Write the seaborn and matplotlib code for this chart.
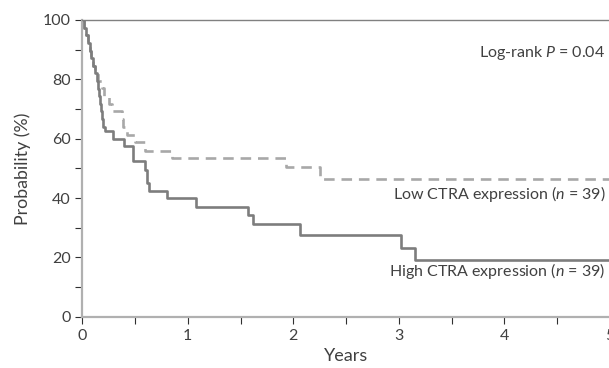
import numpy as np
import pandas as pd
import seaborn as sns
import matplotlib.pyplot as plt
from matplotlib.ticker import MultipleLocator

# Kaplan-Meier curves (years, survival %)
high_years = [0, 0.02, 0.04, 0.05, 0.07, 0.08, 0.10, 0.12, 0.14, 0.15, 0.16, 0.17, 0.18,
              0.19, 0.20, 0.215, 0.29, 0.40, 0.48, 0.59, 0.61, 0.63, 0.80, 1.075, 1.57,
              1.62, 2.06, 3.02, 3.15, 5.0]
high_surv = [100, 97.4, 94.9, 92.3, 89.7, 87.2, 84.6, 82.1, 79.5, 76.9, 74.4, 71.8, 69.2,
             66.7, 64.1, 62.5, 60, 57.5, 52.5, 49.6, 45, 42.5, 40, 37, 34.4,
             31.2, 27.6, 23.3, 19.2, 19.2]

low_years = [0, 0.02, 0.04, 0.05, 0.07, 0.08, 0.10, 0.12, 0.15, 0.19, 0.21, 0.25, 0.28,
             0.38, 0.39, 0.42, 0.50, 0.59, 0.85, 1.93, 2.25, 5.0]
low_surv = [100, 97.4, 94.9, 92.3, 89.7, 87.2, 84.6, 82.1, 79.5, 77, 74.4, 71.8, 69.3,
            66.7, 64.1, 61.4, 58.9, 55.9, 53.4, 50.6, 46.3, 46.3]

x_ticks = [0, 1, 2, 3, 4, 5]
y_ticks = [0, 20, 40, 60, 80, 100]

high_label = "High CTRA expression ($\\it{n}$ = 39)"
low_label = "Low CTRA expression ($\\it{n}$ = 39)"
pval_label = "Log-rank $\\it{P}$ = 0.04"

sns.set_style("ticks")
plt.rcParams['font.family'] = ['Lato', 'DejaVu Sans']
plt.rcParams['mathtext.fontset'] = 'custom'
plt.rcParams['mathtext.it'] = 'Lato:italic'
plt.rcParams['mathtext.rm'] = 'Lato'

text_col = '#404040'

fig = plt.figure(figsize=(6.09, 3.68), dpi=100)
ax = fig.add_axes([0.1351, 0.1394, 0.8662, 0.8063])

high_df = pd.DataFrame({'Years': high_years, 'Probability': high_surv})
low_df = pd.DataFrame({'Years': low_years, 'Probability': low_surv})

sns.lineplot(data=low_df, x='Years', y='Probability', ax=ax, estimator=None,
             drawstyle='steps-post', color='#a8a8a8', linewidth=1.9,
             linestyle=(0, (4, 2.6)))
sns.lineplot(data=high_df, x='Years', y='Probability', ax=ax, estimator=None,
             drawstyle='steps-post', color='#7d7d7d', linewidth=1.9)

ax.set_xlim(0, 5)
ax.set_ylim(0, 100)
ax.set_xticks(x_ticks)
ax.set_yticks(y_ticks)
ax.xaxis.set_minor_locator(MultipleLocator(0.5))
ax.yaxis.set_minor_locator(MultipleLocator(10))
ax.tick_params(axis='both', which='both', direction='out', color='#303030',
               labelsize=11.5, labelcolor=text_col, width=0.8, length=5)

for side in ['left', 'bottom']:
    ax.spines[side].set_color('#b0b0b0')
    ax.spines[side].set_linewidth(1.6)
ax.spines['top'].set_color('#808080')
ax.spines['top'].set_linewidth(1.0)
ax.spines['right'].set_visible(False)

ax.set_xlabel('Years', fontsize=13, color=text_col, labelpad=4)
ax.set_ylabel('Probability (%)', fontsize=12.8, color=text_col, labelpad=8)

ax.text(4.96, 89, pval_label, ha='right', va='center', fontsize=11.5, color=text_col)
ax.text(4.96, 41.5, low_label, ha='right', va='center', fontsize=11.5, color=text_col)
ax.text(4.96, 15.5, high_label, ha='right', va='center', fontsize=11.5, color=text_col)

fig.savefig('out.png', dpi=100)
